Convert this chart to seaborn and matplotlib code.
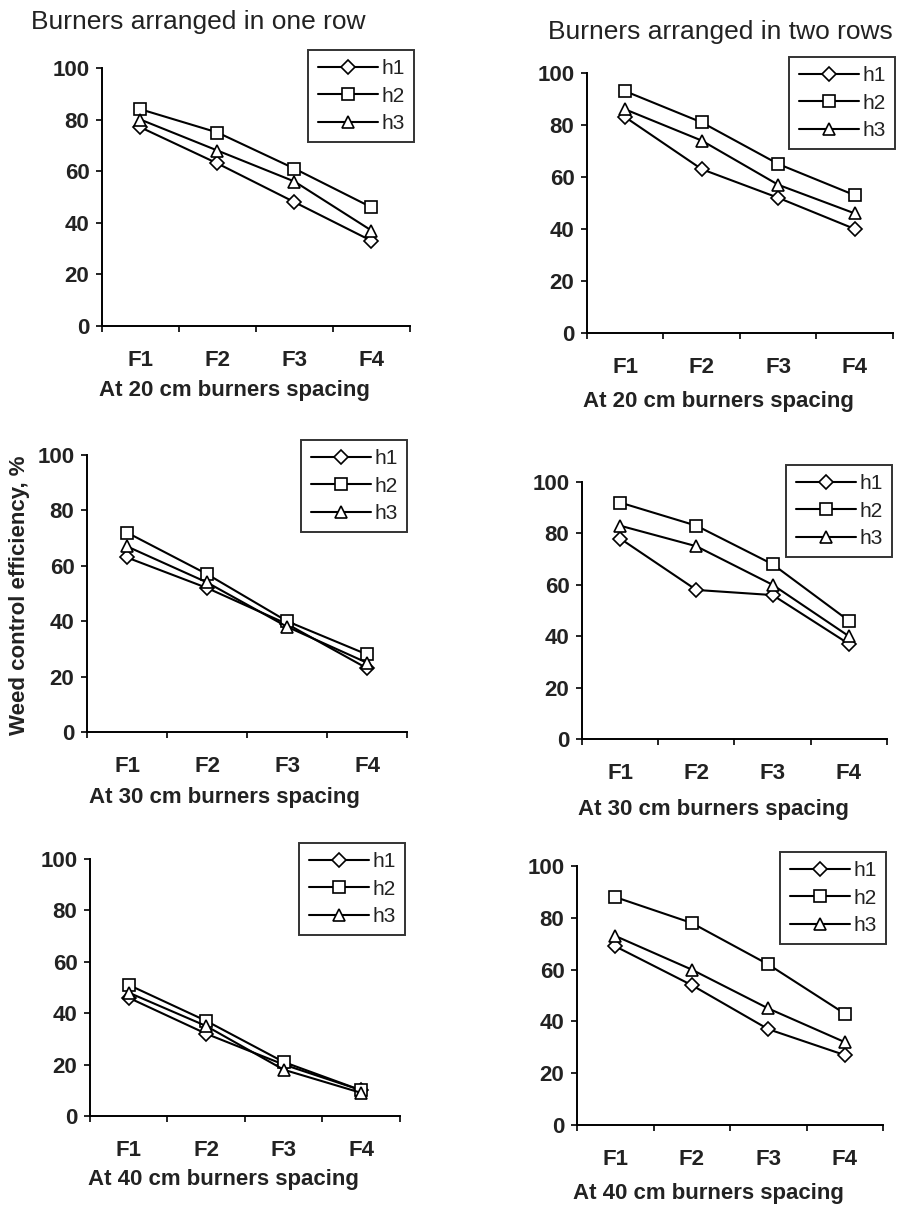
import matplotlib
matplotlib.use("Agg")
import matplotlib.pyplot as plt
from matplotlib.lines import Line2D
import seaborn as sns
import pandas as pd
import numpy as np

sns.set_theme(style="white")
plt.rcParams['font.family'] = ['Liberation Sans', 'DejaVu Sans']

categories = ["F1", "F2", "F3", "F4"]
series_names = ["h1", "h2", "h3"]

# one row of burners
one_20_h1 = [77, 63, 48, 33]
one_20_h2 = [84, 75, 61, 46]
one_20_h3 = [80, 68, 56, 37]
one_30_h1 = [63, 52, 39, 23]
one_30_h2 = [72, 57, 40, 28]
one_30_h3 = [67, 54, 38, 25]
one_40_h1 = [46, 32, 20, 10]
one_40_h2 = [51, 37, 21, 10]
one_40_h3 = [48, 35, 18, 9]
# two rows of burners
two_20_h1 = [83, 63, 52, 40]
two_20_h2 = [93, 81, 65, 53]
two_20_h3 = [86, 74, 57, 46]
two_30_h1 = [78, 58, 56, 37]
two_30_h2 = [92, 83, 68, 46]
two_30_h3 = [83, 75, 60, 40]
two_40_h1 = [69, 54, 37, 27]
two_40_h2 = [88, 78, 62, 43]
two_40_h3 = [73, 60, 45, 32]

xlabels = ["At 20 cm burners spacing", "At 30 cm burners spacing", "At 40 cm burners spacing"]
col_titles = ["Burners arranged in one row", "Burners arranged in two rows"]
ylabel = "Weed control efficiency, %"

W, H = 903, 1215
fig = plt.figure(figsize=(W / 100, H / 100), dpi=100)
fig.patch.set_facecolor("white")

def frac(left, right, top, bottom):
    return [left / W, 1 - bottom / H, (right - left) / W, (bottom - top) / H]

# pixel boxes: (left, right, top(y=100), bottom(y=0)), legend box (x0, x1, y0, y1), xlabel offset px
panels = [
    ((102, 410, 68, 326), (311, 414, 50, 146), [one_20_h1, one_20_h2, one_20_h3], 0, 64),
    ((587, 893, 73, 333), (795, 895, 57, 153), [two_20_h1, two_20_h2, two_20_h3], 0, 68),
    ((87, 407, 455, 732), (305, 407, 440, 534), [one_30_h1, one_30_h2, one_30_h3], 1, 66),
    ((582, 887, 482, 739), (789, 892, 465, 557), [two_30_h1, two_30_h2, two_30_h3], 1, 70),
    ((90, 400, 859, 1116), (300, 405, 843, 937), [one_40_h1, one_40_h2, one_40_h3], 2, 64),
    ((577, 883, 866, 1125), (785, 886, 852, 946), [two_40_h1, two_40_h2, two_40_h3], 2, 68),
]

markers = {"h1": "D", "h2": "s", "h3": "^"}
msizes = {"h1": 7, "h2": 9, "h3": 9}
TXT = "#222222"

for (box, lbox, vals, row, xoff) in panels:
    ax = fig.add_axes(frac(*box))
    df = pd.DataFrame({
        "F": categories * 3,
        "val": vals[0] + vals[1] + vals[2],
        "h": [s for s in series_names for _ in categories],
    })
    for name in series_names:
        sub = df[df["h"] == name]
        sns.lineplot(data=sub, x="F", y="val", ax=ax, color="black", lw=1.5,
                     marker=markers[name], markersize=msizes[name],
                     markerfacecolor="white", markeredgecolor="black",
                     markeredgewidth=1.2, legend=False, sort=False)
    ax.set_xlim(-0.5, 3.5)
    ax.set_ylim(0, 100)
    ax.set_yticks([0, 20, 40, 60, 80, 100])
    ax.set_xticks(range(4))
    ax.set_xticklabels(categories)
    ax.set_xticks(np.arange(-0.5, 4.0, 1.0), minor=True)
    ax.tick_params(axis="x", which="major", length=0, pad=17, labelsize=16)
    ax.tick_params(axis="x", which="minor", length=4, width=1.2, direction="out", color="black", bottom=True)
    ax.tick_params(axis="y", which="major", length=4, width=1.2, direction="out", color="black",
                   left=True, labelsize=16, pad=5)
    for lab in ax.get_xticklabels() + ax.get_yticklabels():
        lab.set_fontweight("bold")
        lab.set_color(TXT)
    ax.set_xlabel("")
    ax.set_ylabel("")
    ax.text(0.43, -xoff / (box[3] - box[2]), xlabels[row], transform=ax.transAxes,
            ha="center", va="center", fontsize=16, fontweight="bold", color=TXT)
    ax.set_facecolor("none")
    for s in ["top", "right"]:
        ax.spines[s].set_visible(False)
    for s in ["left", "bottom"]:
        ax.spines[s].set_color("black")
        ax.spines[s].set_linewidth(1.4)
    ax.grid(False)

    handles = [Line2D([0], [0], color="black", lw=1.5, marker=markers[n], markersize=msizes[n],
                      markerfacecolor="white", markeredgecolor="black", markeredgewidth=1.2)
               for n in series_names]
    x0, x1, y0, y1 = lbox
    leg = fig.legend(handles, series_names, loc="upper right",
                     bbox_to_anchor=(x1 / W, 1 - y0 / H), frameon=True, fancybox=False,
                     fontsize=15, handlelength=2.9, handletextpad=0.15, borderpad=0.45,
                     labelspacing=0.4, borderaxespad=0)
    leg.get_frame().set_edgecolor("black")
    leg.get_frame().set_linewidth(1.4)
    for t in leg.get_texts():
        t.set_color(TXT)

fig.text(198 / W, 1 - 22 / H, col_titles[0], ha="center", va="center", fontsize=19, color=TXT)
fig.text(720 / W, 1 - 32 / H, col_titles[1], ha="center", va="center", fontsize=19, color=TXT)
fig.text(20 / W, 1 - 595 / H, ylabel, ha="center", va="center", rotation=90,
         fontsize=16, fontweight="bold", color=TXT)

fig.savefig("out.png", dpi=100, facecolor="white")
